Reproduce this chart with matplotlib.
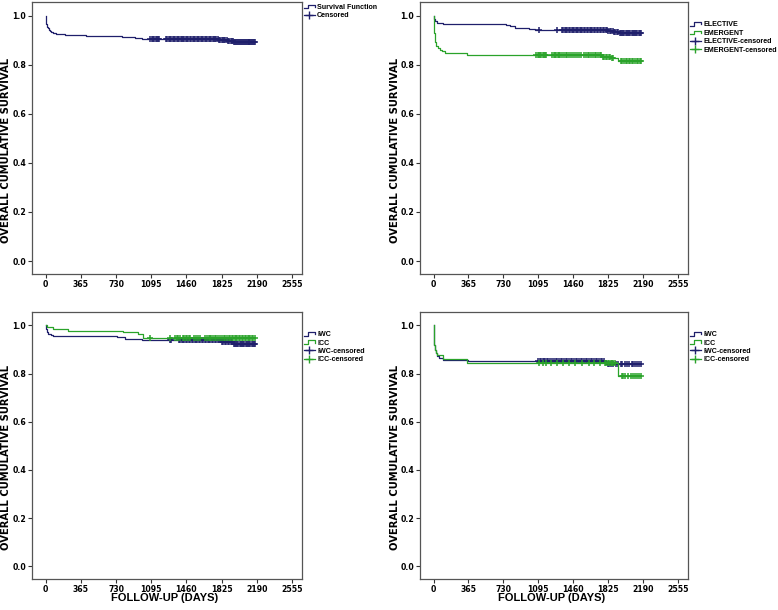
import numpy as np
import matplotlib
matplotlib.use("Agg")
import matplotlib.pyplot as plt
from matplotlib.lines import Line2D
from matplotlib.legend_handler import HandlerBase

## colours of the two groups (SPSS style)
NAVY = "#1f1f6b"
GREEN = "#2aa32a"
NARROW = "Liberation Sans"

## ---------------- data ----------------
# panel A : overall
all_t = [0, 4, 8, 14, 22, 32, 45, 60, 80, 105, 140, 200, 290, 420, 560, 700, 790, 860, 930, 1000, 1790, 1880, 1950]
all_s = [1.0, 0.98, 0.965, 0.955, 0.948, 0.942, 0.937, 0.933, 0.93, 0.927, 0.925, 0.923, 0.921, 0.919, 0.918,
         0.917, 0.915, 0.912, 0.909, 0.905, 0.901, 0.896, 0.891]
all_cens = [1085, 1100, 1112, 1125, 1140, 1152, 1165, 1180, 1250, 1262, 1275, 1290, 1302, 1318, 1330, 1345, 1360,
            1372, 1388, 1400, 1415, 1428, 1440, 1455, 1470, 1482, 1497, 1510, 1525, 1538, 1552, 1566, 1580, 1594,
            1608, 1620, 1635, 1650, 1662, 1676, 1690, 1704, 1718, 1732, 1745, 1760, 1772, 1786, 1800, 1812, 1826,
            1840, 1852, 1866, 1878, 1892, 1905, 1918, 1932, 1945, 1955, 1965, 1975, 1985, 1995, 2005, 2015, 2025,
            2035, 2045, 2055, 2065, 2075, 2085, 2095, 2105, 2115, 2125, 2135, 2145, 2155, 2165, 2172]

# panel B : elective vs emergent
elec_t = [0, 5, 15, 40, 100, 720, 760, 800, 850, 900, 1000, 1060, 1820, 1880, 1940]
elec_s = [1.0, 0.985, 0.978, 0.972, 0.968, 0.965, 0.961, 0.957, 0.952, 0.948, 0.946, 0.943, 0.939, 0.934, 0.93]
elec_cens = [1097, 1292, 1340, 1355, 1372, 1388, 1400, 1412, 1428, 1445, 1458, 1470, 1485, 1500, 1512, 1526, 1540,
             1555, 1570, 1585, 1600, 1615, 1632, 1648, 1660, 1675, 1690, 1705, 1722, 1738, 1752, 1768, 1782, 1798,
             1812, 1828, 1842, 1858, 1872, 1886, 1900, 1915, 1930, 1945, 1958, 1970, 1982, 1995, 2008, 2020, 2032,
             2045, 2058, 2070, 2082, 2095, 2108, 2120, 2132, 2145, 2158, 2170]
emer_t = [0, 3, 7, 12, 20, 30, 45, 65, 90, 120, 350, 1757, 1850, 1933]
emer_s = [1.0, 0.96, 0.93, 0.91, 0.893, 0.878, 0.868, 0.86, 0.855, 0.849, 0.841, 0.833, 0.829, 0.814]
emer_cens = [1075, 1090, 1102, 1115, 1128, 1140, 1155, 1168, 1180, 1240, 1255, 1270, 1282, 1298, 1310, 1325, 1345,
             1362, 1380, 1398, 1420, 1440, 1460, 1478, 1500, 1520, 1545, 1570, 1590, 1612, 1630, 1650, 1668, 1685,
             1700, 1718, 1735, 1750, 1770, 1785, 1800, 1815, 1830, 1845, 1862, 1878, 1960, 1975, 1990, 2008, 2025,
             2040, 2058, 2075, 2090, 2108, 2125, 2140, 2158, 2172]

# panel C : IWC vs ICC (1)
iwc1_t = [0, 5, 12, 25, 50, 80, 600, 740, 820, 1000, 1830, 1940]
iwc1_s = [1.0, 0.985, 0.972, 0.966, 0.962, 0.958, 0.955, 0.951, 0.945, 0.938, 0.932, 0.925]
iwc1_cens = [1285, 1300, 1380, 1395, 1410, 1425, 1440, 1455, 1470, 1485, 1500, 1515, 1530, 1545, 1560, 1575, 1590,
             1605, 1620, 1635, 1650, 1665, 1680, 1695, 1710, 1725, 1740, 1755, 1770, 1785, 1800, 1815, 1830, 1845,
             1860, 1875, 1890, 1905, 1920, 1935, 1950, 1962, 1975, 1988, 2000, 2012, 2025, 2038, 2050, 2062, 2075,
             2088, 2100, 2112, 2125, 2138, 2150, 2162, 2172]
icc1_t = [0, 15, 80, 235, 805, 960, 1012]
icc1_s = [1.0, 0.992, 0.985, 0.978, 0.971, 0.963, 0.948]
icc1_cens = [1083, 1292, 1345, 1360, 1378, 1395, 1420, 1440, 1455, 1470, 1485, 1500, 1540, 1560, 1580, 1600, 1650,
             1670, 1690, 1705, 1720, 1740, 1755, 1770, 1790, 1810, 1830, 1850, 1865, 1880, 1900, 1915, 1930, 1945,
             1960, 1975, 1990, 2005, 2020, 2035, 2050, 2065, 2080, 2095, 2110, 2125, 2140, 2155, 2170]

# panel D : IWC vs ICC (2)
iwc2_t = [0, 3, 8, 15, 25, 40, 60, 100, 360, 1800]
iwc2_s = [1.0, 0.95, 0.92, 0.9, 0.885, 0.872, 0.866, 0.858, 0.852, 0.838]
iwc2_cens = [1095, 1110, 1125, 1140, 1155, 1170, 1185, 1200, 1220, 1240, 1258, 1275, 1292, 1310, 1328, 1345, 1362,
             1380, 1398, 1415, 1432, 1450, 1468, 1485, 1502, 1520, 1538, 1555, 1572, 1590, 1608, 1625, 1642, 1660,
             1678, 1695, 1712, 1730, 1748, 1765, 1782, 1820, 1838, 1855, 1880, 1905, 1930, 1955, 1975, 2000, 2020,
             2045, 2070, 2090, 2110, 2130, 2150, 2170]
icc2_t = [0, 3, 8, 15, 25, 35, 100, 352, 1926]
icc2_s = [1.0, 0.95, 0.92, 0.9, 0.885, 0.876, 0.861, 0.844, 0.792]
icc2_cens = [1100, 1140, 1180, 1230, 1290, 1350, 1420, 1480, 1550, 1620, 1680, 1740, 1790, 1805, 1820, 1835, 1850,
             1865, 1880, 1900, 1965, 1985, 2005, 2030, 2060, 2090, 2110, 2130, 2150, 2170]

x_ticks = [0, 365, 730, 1095, 1460, 1825, 2190, 2555]
y_ticks = [0.0, 0.2, 0.4, 0.6, 0.8, 1.0]


class StepHandler(HandlerBase):
    ## draws the little SPSS step glyph in the legend
    def create_artists(self, legend, orig_handle, xdescent, ydescent, width, height, fontsize, trans):
        x0 = -xdescent
        y0 = -ydescent
        xs = [x0, x0 + 0.35 * width, x0 + 0.35 * width, x0 + width, x0 + width]
        ys = [y0 + 0.1 * height, y0 + 0.1 * height, y0 + 0.85 * height, y0 + 0.85 * height, y0 + 0.4 * height]
        ln = Line2D(xs, ys, color=orig_handle.get_color(), lw=0.9)
        ln.set_transform(trans)
        return [ln]


def km(ax, t, s, cens, color, end):
    tt = list(t) + [end]
    ss = list(s) + [s[-1]]
    ax.step(tt, ss, where="post", color=color, lw=0.9)
    idx = np.searchsorted(t, cens, side="right") - 1
    cy = np.array(s)[idx]
    ax.plot(cens, cy, ls="none", marker="+", ms=4.5, mew=1.1, color=color)


def style(ax, xlab=False):
    ax.set_xlim(-142, 2660)
    ax.set_ylim(-0.053, 1.056)
    ax.set_xticks(x_ticks)
    ax.set_yticks(y_ticks)
    ax.set_yticklabels(["%.1f" % v for v in y_ticks])
    for sp in ax.spines.values():
        sp.set_color("#555555")
        sp.set_linewidth(0.9)
    ax.tick_params(axis="both", length=3, width=0.8, labelsize=5.6, pad=1.2, color="#333333")
    for lab in ax.get_xticklabels() + ax.get_yticklabels():
        lab.set_fontweight("bold")
    ax.set_ylabel("OVERALL CUMULATIVE SURVIVAL", fontsize=7.2, fontweight="bold")
    ax.yaxis.set_label_coords(-0.076, 0.455)
    if xlab:
        ax.set_xlabel("FOLLOW-UP (DAYS)", fontsize=8.0, fontweight="bold", family=NARROW)
        ax.xaxis.set_label_coords(0.49, -0.052)


def legend(ax, labels, colors, top):
    handles = []
    hmap = {}
    for lab, c in zip(labels, colors):
        if lab.endswith("ensored"):
            h = Line2D([], [], color=c, lw=0.9, marker="+", ms=6, mew=1.0)
        else:
            h = Line2D([], [], color=c, lw=0.9)
            hmap[h] = StepHandler()
        handles.append(h)
    ax.legend(handles, labels, handler_map=hmap, loc="upper left", bbox_to_anchor=(1.0, top),
              frameon=False, prop={"size": 5.1, "weight": "bold", "family": NARROW}, handlelength=1.6,
              handletextpad=0.3, labelspacing=0.2, borderaxespad=0.15, borderpad=0.1, numpoints=1)


fig = plt.figure(figsize=(7.78, 6.10), dpi=100)
W, H = 778.0, 610.0
ax1 = fig.add_axes([32 / W, (H - 274) / H, 270 / W, 272 / H])
ax2 = fig.add_axes([420 / W, (H - 274) / H, 268 / W, 272 / H])
ax3 = fig.add_axes([32 / W, (H - 579) / H, 270 / W, 267 / H])
ax4 = fig.add_axes([420 / W, (H - 579) / H, 268 / W, 267 / H])

END = 2172

## panel A
km(ax1, all_t, all_s, all_cens, NAVY, END)
style(ax1)
legend(ax1, ["Survival Function", "Censored"], [NAVY, NAVY], 1.0)

## panel B
km(ax2, elec_t, elec_s, elec_cens, NAVY, END)
km(ax2, emer_t, emer_s, emer_cens, GREEN, END)
style(ax2)
legend(ax2, ["ELECTIVE", "EMERGENT", "ELECTIVE-censored", "EMERGENT-censored"], [NAVY, GREEN, NAVY, GREEN], 0.935)

## panel C
km(ax3, iwc1_t, iwc1_s, iwc1_cens, NAVY, END)
km(ax3, icc1_t, icc1_s, icc1_cens, GREEN, END)
style(ax3, xlab=True)
legend(ax3, ["IWC", "ICC", "IWC-censored", "ICC-censored"], [NAVY, GREEN, NAVY, GREEN], 0.935)

## panel D
km(ax4, iwc2_t, iwc2_s, iwc2_cens, NAVY, END)
km(ax4, icc2_t, icc2_s, icc2_cens, GREEN, END)
style(ax4, xlab=True)
legend(ax4, ["IWC", "ICC", "IWC-censored", "ICC-censored"], [NAVY, GREEN, NAVY, GREEN], 0.935)

fig.savefig("out.png", dpi=100)
